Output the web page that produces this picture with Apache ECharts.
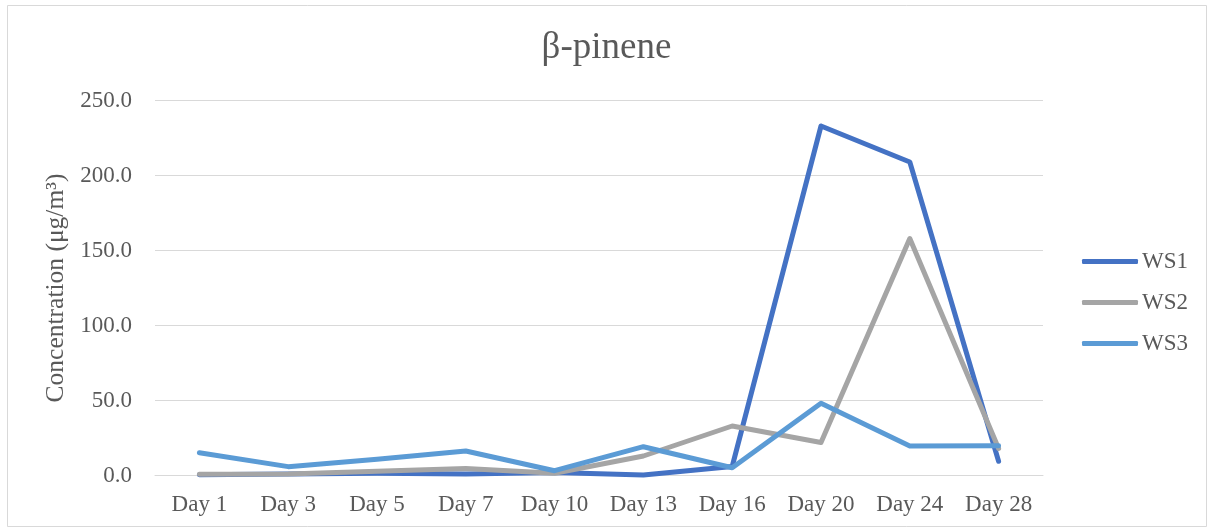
<!DOCTYPE html>
<html>
<head>
<meta charset="utf-8">
<script src="https://cdn.jsdelivr.net/npm/echarts@6/dist/echarts.min.js"></script>
<style>
  html, body { margin: 0; padding: 0; background: #fff; }
  #chart { width: 1213px; height: 531px; }
</style>
</head>
<body>
<div id="chart"></div>
<script>
// Sampling days and β-pinene concentrations (μg/m³) per workstation
const days = ['Day 1', 'Day 3', 'Day 5', 'Day 7', 'Day 10', 'Day 13', 'Day 16', 'Day 20', 'Day 24', 'Day 28'];
const ws1 = [0.5, 1.0, 1.5, 1.0, 2.0, 0.3, 6.0, 233.0, 209.0, 9.5];
const ws2 = [0.8, 1.0, 2.8, 4.6, 1.5, 13.0, 33.0, 22.0, 158.0, 18.0];
const ws3 = [15.2, 5.9, 10.8, 16.3, 3.2, 19.2, 5.2, 48.1, 19.7, 19.8];
const yTicks = { min: 0, max: 250, interval: 50 };

const seriesDefs = [
  { name: 'WS1', data: ws1, color: '#4472C4' },
  { name: 'WS2', data: ws2, color: '#A5A5A5' },
  { name: 'WS3', data: ws3, color: '#5B9BD5' }
];

const font = '"Liberation Serif", "Times New Roman", serif';
const textColor = '#595959';

const chart = echarts.init(document.getElementById('chart'), null, { renderer: 'canvas' });
chart.setOption({
  backgroundColor: '#fff',
  animation: false,
  graphic: [{
    type: 'rect',
    shape: { x: 7.5, y: 5.5, width: 1199, height: 521 },
    style: { fill: 'none', stroke: '#d9d9d9', lineWidth: 1 },
    silent: true
  }],
  title: {
    text: 'β-pinene',
    left: 'center',
    top: 25,
    textStyle: { fontFamily: font, fontSize: 37, fontWeight: 'normal', color: textColor }
  },
  legend: {
    orient: 'vertical',
    left: 1077,
    top: 245,
    itemWidth: 56,
    itemHeight: 5,
    itemGap: 18,
    icon: 'roundRect',
    textStyle: { fontFamily: font, fontSize: 23, color: textColor, padding: [0, 0, 0, -1] },
    data: seriesDefs.map(s => s.name)
  },
  grid: { left: 155, right: 170, top: 100.5, bottom: 55.5 },
  xAxis: {
    type: 'category',
    data: days,
    boundaryGap: true,
    axisLine: { show: true, lineStyle: { color: '#d9d9d9', width: 1 } },
    axisTick: { show: false },
    axisLabel: { fontFamily: font, fontSize: 23, color: textColor, margin: 18 }
  },
  yAxis: {
    type: 'value',
    min: yTicks.min,
    max: yTicks.max,
    interval: yTicks.interval,
    name: 'Concentration (μg/m³)',
    nameLocation: 'middle',
    nameGap: 84,
    nameTextStyle: { fontFamily: font, fontSize: 25.5, color: textColor },
    axisLine: { show: false },
    axisTick: { show: false },
    splitLine: { lineStyle: { color: '#d9d9d9', width: 1 } },
    axisLabel: {
      fontFamily: font, fontSize: 23, color: textColor, margin: 23,
      formatter: v => v.toFixed(1)
    }
  },
  series: seriesDefs.map(s => ({
    name: s.name,
    type: 'line',
    data: s.data,
    symbol: 'none',
    color: s.color,
    lineStyle: { color: s.color, width: 5, cap: 'round', join: 'round' }
  }))
});
</script>
</body>
</html>
